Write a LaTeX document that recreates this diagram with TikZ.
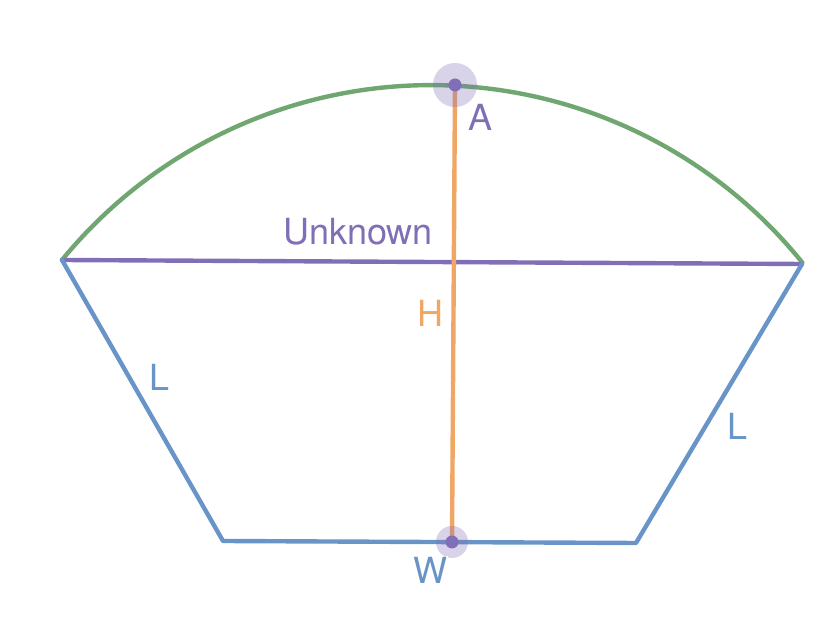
\documentclass[tikz,border=0pt]{standalone}
\usepackage{fontspec}
\setmainfont{TeX Gyre Heros}
\definecolor{arcgreen}{RGB}{112,166,112}
\definecolor{chordpurple}{RGB}{128,110,182}
\definecolor{sideblue}{RGB}{104,148,200}
\definecolor{heightorange}{RGB}{240,166,100}
\tikzset{
	lbl/.style={font=\fontsize{27}{31}\selectfont, inner sep=1pt},
	seg/.style={line width=3.3pt},
	halo/.style={fill=chordpurple, fill opacity=0.3},
	dot/.style={fill=chordpurple}
}
\begin{document}
\begin{tikzpicture}[line join=round, line cap=round, x=0.75pt, y=0.75pt]
				\useasboundingbox (0,0) rectangle (840,624);
				\coordinate (TL) at (62,364);
				\coordinate (TR) at (802,360);
				\coordinate (BL) at (223,83);
				\coordinate (BR) at (636,81);
				\coordinate (A) at (455,539);
				\coordinate (W) at (452,82);
				
				\draw[seg, arcgreen] (TL) arc[start angle=140.7, end angle=38.9, radius=477];
				\draw[seg, chordpurple] (TL) -- (TR);
				
				\draw[seg, sideblue] (TL) -- (BL) -- (BR) -- (TR);
				\draw[seg, heightorange] (A) -- (W);
				
				\fill[halo] (A) circle (22);
				\fill[halo] (W) circle (16);
				\fill[dot] (A) circle (6.5);
				\fill[dot] (W) circle (6.5);
				
				\node[lbl, text=chordpurple] (lblA) at (481,507) {A};
				\node[lbl, text=chordpurple] (lblU) at (358,392) {Unknown};
				\node[lbl, text=heightorange] (lblH) at (430,311) {H};
				\node[lbl, text=sideblue] (lblL1) at (160,247) {L};
				\node[lbl, text=sideblue] (lblL2) at (738,198) {L};
				\node[lbl, text=sideblue, fill=white] (lblW) at (430,54) {W};
			\end{tikzpicture}
\end{document}
